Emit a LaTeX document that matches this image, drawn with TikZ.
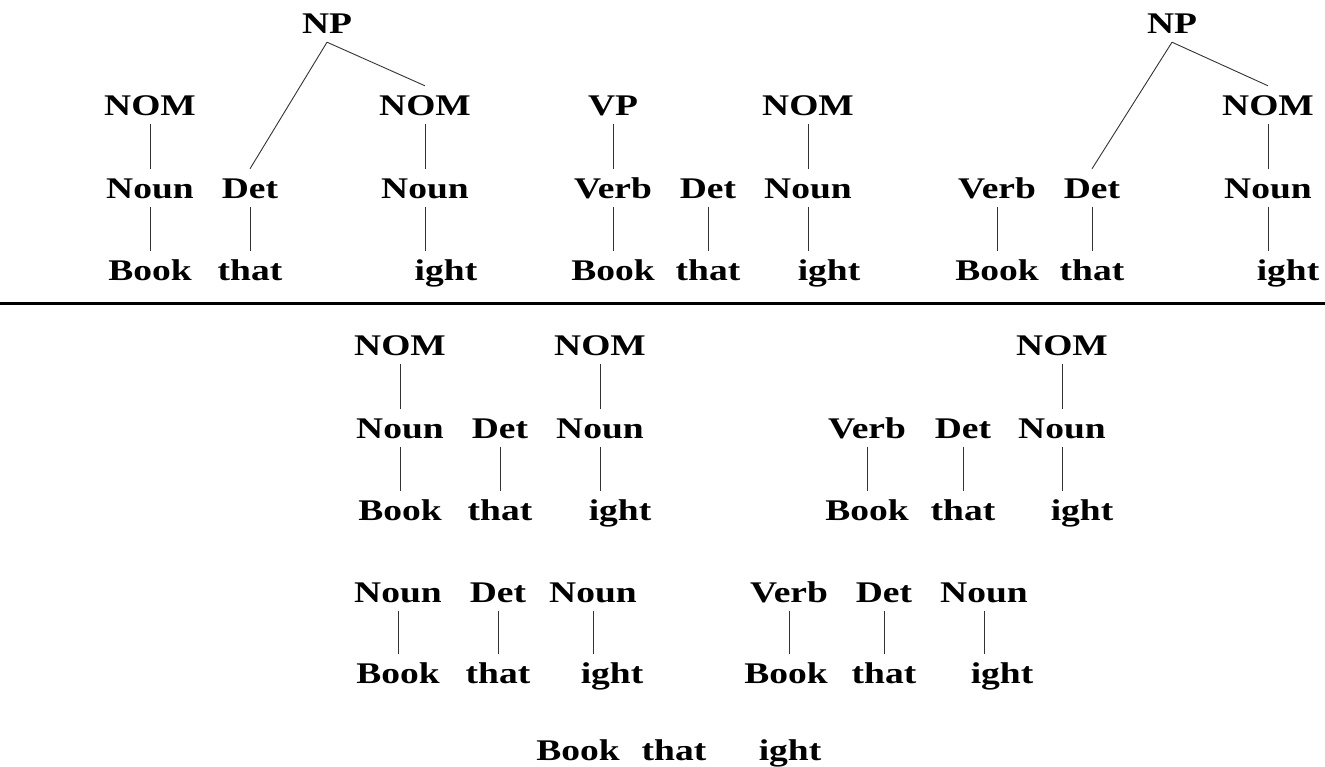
\documentclass[tikz,border=0pt]{standalone}
\usepackage{fontspec}
\setmainfont{Liberation Serif}[FakeStretch=1.25]
\begin{document}
\begin{tikzpicture}[x=1pt,y=-1pt,
  lbl/.style={font=\fontsize{30}{32}\selectfont\bfseries, inner xsep=0pt,
    inner ysep=9pt, text height=20pt, text depth=0pt, anchor=base},
  branch/.style={draw=black!80, line width=0.9pt},
  rule/.style={draw=black, line width=3pt}]
\useasboundingbox (0,0) rectangle (1325,766);

% ---- tree 1: NOM Noun Book, NP -> Det NOM ----
\node[lbl] (a-np)   at (327,33)  {NP};
\node[lbl] (a-nom1) at (150,115) {NOM};
\node[lbl] (a-n1)   at (150,198) {Noun};
\node[lbl] (a-b)    at (150,280) {Book};
\node[lbl] (a-det)  at (250,198) {Det};
\node[lbl] (a-t)    at (250,280) {that};
\node[lbl] (a-nom2) at (425,115) {NOM};
\node[lbl] (a-n2)   at (425,198) {Noun};
\node[lbl] (a-f)    at (446,280) {ight};
\draw[branch] (a-np.south) -- (a-det.north);
\draw[branch] (a-np.south) -- (a-nom2.north);
\draw[branch] (a-nom1) -- (a-n1);
\draw[branch] (a-n1) -- (a-b);
\draw[branch] (a-det) -- (a-t);
\draw[branch] (a-nom2) -- (a-n2);
\draw[branch] (a-n2.south) -- (a-n2.south |- a-f.north);

% ---- tree 2: VP Verb Book, Det that, NOM Noun ----
\node[lbl] (b-vp)  at (613,115) {VP};
\node[lbl] (b-v)   at (613,198) {Verb};
\node[lbl] (b-b)   at (613,280) {Book};
\node[lbl] (b-det) at (708,198) {Det};
\node[lbl] (b-t)   at (708,280) {that};
\node[lbl] (b-nom) at (808,115) {NOM};
\node[lbl] (b-n)   at (808,198) {Noun};
\node[lbl] (b-f)   at (829,280) {ight};
\draw[branch] (b-vp) -- (b-v);
\draw[branch] (b-v) -- (b-b);
\draw[branch] (b-det) -- (b-t);
\draw[branch] (b-nom) -- (b-n);
\draw[branch] (b-n.south) -- (b-n.south |- b-f.north);

% ---- tree 3: Verb Book, NP -> Det NOM ----
\node[lbl] (c-np)  at (1172,33)  {NP};
\node[lbl] (c-v)   at (997,198)  {Verb};
\node[lbl] (c-b)   at (997,280)  {Book};
\node[lbl] (c-det) at (1092,198) {Det};
\node[lbl] (c-t)   at (1092,280) {that};
\node[lbl] (c-nom) at (1268,115) {NOM};
\node[lbl] (c-n)   at (1268,198) {Noun};
\node[lbl] (c-f)   at (1288,280) {ight};
\draw[branch] (c-np.south) -- (c-det.north);
\draw[branch] (c-np.south) -- (c-nom.north);
\draw[branch] (c-v) -- (c-b);
\draw[branch] (c-det) -- (c-t);
\draw[branch] (c-nom) -- (c-n);
\draw[branch] (c-n.south) -- (c-n.south |- c-f.north);

% ---- separating rule ----
\draw[rule] (0,303) -- (1325,303);

% ---- tree 4: NOM Noun Book, Det that, NOM Noun ----
\node[lbl] (d-nom1) at (400,355) {NOM};
\node[lbl] (d-n1)   at (400,438) {Noun};
\node[lbl] (d-b)    at (400,520) {Book};
\node[lbl] (d-det)  at (500,438) {Det};
\node[lbl] (d-t)    at (500,520) {that};
\node[lbl] (d-nom2) at (600,355) {NOM};
\node[lbl] (d-n2)   at (600,438) {Noun};
\node[lbl] (d-f)    at (620,520) {ight};
\draw[branch] (d-nom1) -- (d-n1);
\draw[branch] (d-n1) -- (d-b);
\draw[branch] (d-det) -- (d-t);
\draw[branch] (d-nom2) -- (d-n2);
\draw[branch] (d-n2.south) -- (d-n2.south |- d-f.north);

% ---- tree 5: Verb Book, Det that, NOM Noun ----
\node[lbl] (e-v)   at (867,438)  {Verb};
\node[lbl] (e-b)   at (867,520)  {Book};
\node[lbl] (e-det) at (963,438)  {Det};
\node[lbl] (e-t)   at (963,520)  {that};
\node[lbl] (e-nom) at (1062,355) {NOM};
\node[lbl] (e-n)   at (1062,438) {Noun};
\node[lbl] (e-f)   at (1082,520) {ight};
\draw[branch] (e-v) -- (e-b);
\draw[branch] (e-det) -- (e-t);
\draw[branch] (e-nom) -- (e-n);
\draw[branch] (e-n.south) -- (e-n.south |- e-f.north);

% ---- tree 6: Noun Det Noun ----
\node[lbl] (f-n1)  at (398,602) {Noun};
\node[lbl] (f-b)   at (398,683) {Book};
\node[lbl] (f-det) at (498,602) {Det};
\node[lbl] (f-t)   at (498,683) {that};
\node[lbl] (f-n2)  at (593,602) {Noun};
\node[lbl] (f-f)   at (612,683) {ight};
\draw[branch] (f-n1) -- (f-b);
\draw[branch] (f-det) -- (f-t);
\draw[branch] (f-n2.south) -- (f-n2.south |- f-f.north);

% ---- tree 7: Verb Det Noun ----
\node[lbl] (g-v)   at (789,602) {Verb};
\node[lbl] (g-b)   at (786,683) {Book};
\node[lbl] (g-det) at (884,602) {Det};
\node[lbl] (g-t)   at (884,683) {that};
\node[lbl] (g-n)   at (984,602) {Noun};
\node[lbl] (g-f)   at (1002,683) {ight};
\draw[branch] (g-v.south) -- (g-v.south |- g-b.north);
\draw[branch] (g-det) -- (g-t);
\draw[branch] (g-n.south) -- (g-n.south |- g-f.north);

% ---- bare words ----
\node[lbl] (h-b) at (578,760) {Book};
\node[lbl] (h-t) at (674,760) {that};
\node[lbl] (h-f) at (790,760) {ight};
\end{tikzpicture}
\end{document}
